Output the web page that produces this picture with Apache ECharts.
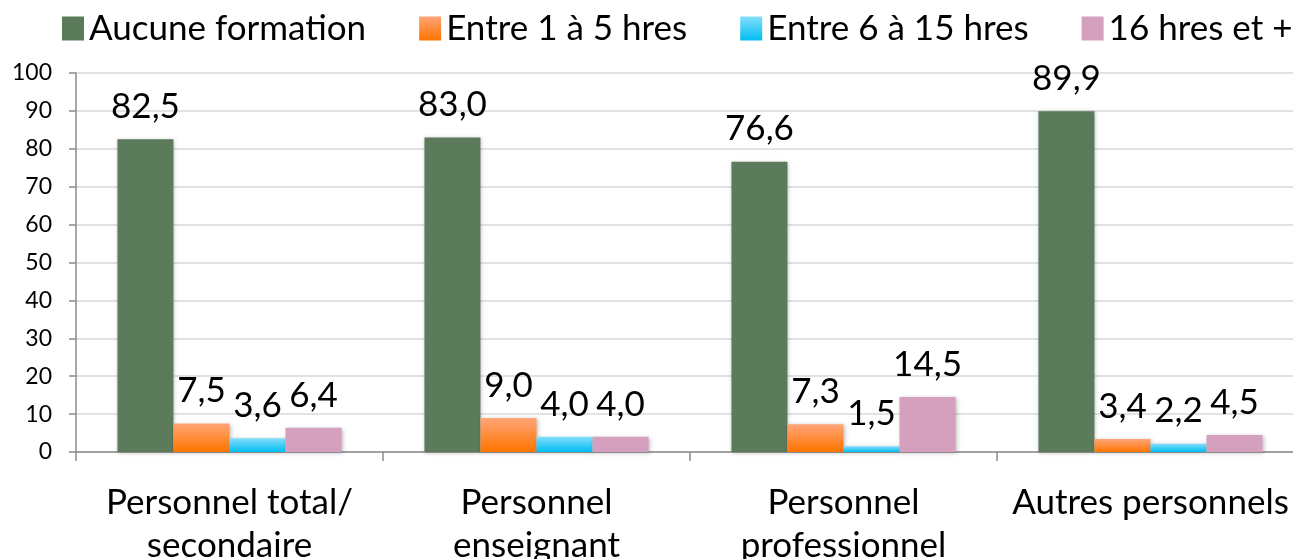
<!DOCTYPE html>
<html>
<head>
<meta charset="utf-8">
<script src="https://cdn.jsdelivr.net/npm/echarts@6/dist/echarts.min.js"></script>
<style>
	html, body { margin: 0; padding: 0; background: #fff; }
	#chart { width: 1293px; height: 559px; }
</style>
</head>
<body>
<div id="chart"></div>
<script>
// categories and series values
var categories = ['Personnel total/\nsecondaire', 'Personnel\nenseignant', 'Personnel\nprofessionnel', 'Autres personnels'];
var seriesNames = ['Aucune formation', 'Entre 1 à 5 hres', 'Entre 6 à 15 hres', '16 hres et +'];
var aucune = [82.5, 83.0, 76.6, 89.9];
var entre1a5 = [7.5, 9.0, 7.3, 3.4];
var entre6a15 = [3.6, 4.0, 1.5, 2.2];
var plus16 = [6.4, 4.0, 14.5, 4.5];
var yTicks = [0, 100, 10]; // min, max, interval

var font = 'Lato, "Open Sans", sans-serif';

function grad(top, bottom) {
	return new echarts.graphic.LinearGradient(0, 0, 0, 1, [
		{offset: 0, color: top},
		{offset: 1, color: bottom}
	]);
}

function makeSeries(name, data, color) {
	return {
		name: name,
		type: 'bar',
		data: data,
		barGap: '0%',
		barCategoryGap: '27%',
		itemStyle: {
			color: color,
			shadowColor: 'rgba(0,0,0,0.25)',
			shadowBlur: 4,
			shadowOffsetX: 1,
			shadowOffsetY: 1
		},
		label: {
			show: true,
			position: 'top',
			distance: 15,
			fontFamily: font,
			fontSize: 35,
			color: '#000',
			formatter: function (p) {
				return p.value.toFixed(1).replace('.', ',');
			}
		}
	};
}

var myChart = echarts.init(document.getElementById('chart'));
var option = {
	animation: false,
	color: ['#5b7b5a', '#ff8a3d', '#2ccbf8', '#d5a0bd'],
	legend: {
		data: seriesNames,
		top: 11,
		left: 62,
		width: 1231,
		padding: 0,
		itemWidth: 22,
		itemHeight: 24,
		itemGap: 53,
		icon: 'rect',
		textStyle: {
			fontFamily: font,
			fontSize: 35,
			color: '#000'
		}
	},
	grid: {
		left: 76,
		right: -11,
		top: 73,
		bottom: 107,
		containLabel: false,
		outerBoundsMode: 'none'
	},
	xAxis: {
		type: 'category',
		data: categories,
		axisLine: { lineStyle: { color: '#8c8c8c', width: 1.5 } },
		axisTick: { show: true, alignWithLabel: false, length: 9, lineStyle: { color: '#8c8c8c', width: 1.5 } },
		axisLabel: {
			interval: 0,
			margin: 29,
			fontFamily: font,
			fontSize: 35,
			lineHeight: 43,
			color: '#000'
		}
	},
	yAxis: {
		type: 'value',
		min: yTicks[0],
		max: yTicks[1],
		interval: yTicks[2],
		axisLine: { show: true, lineStyle: { color: '#8c8c8c', width: 1.5 } },
		axisTick: { show: true, length: 7, lineStyle: { color: '#8c8c8c', width: 1.5 } },
		splitLine: { lineStyle: { color: '#d9d9d9', width: 1.5 } },
		axisLabel: {
			margin: 24,
			fontFamily: font,
			fontSize: 23,
			color: '#000'
		}
	},
	series: [
		makeSeries(seriesNames[0], aucune, '#5b7b5a'),
		makeSeries(seriesNames[1], entre1a5, grad('#ffa577', '#ff7400')),
		makeSeries(seriesNames[2], entre6a15, grad('#84defb', '#00bdf3')),
		makeSeries(seriesNames[3], plus16, '#d5a0bd')
	]
};
myChart.setOption(option);
</script>
</body>
</html>
